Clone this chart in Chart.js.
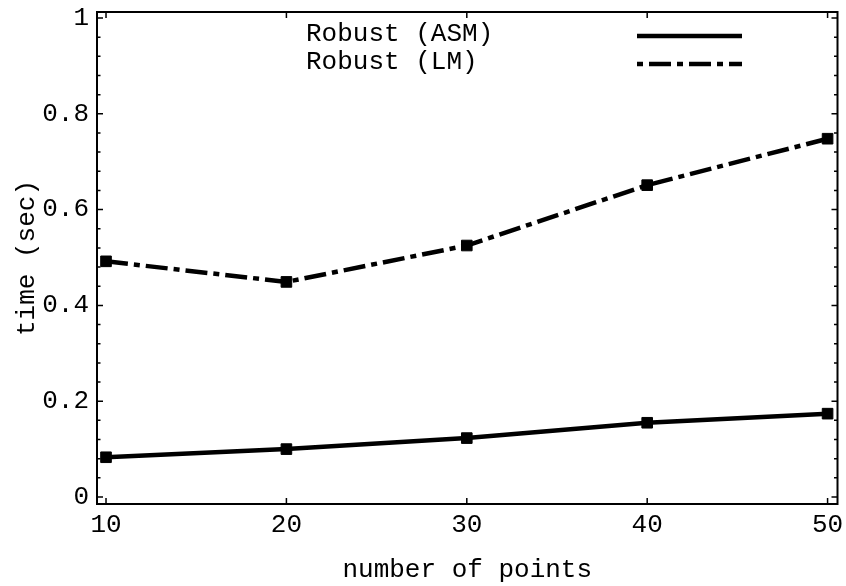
<!DOCTYPE html>
<html><head><meta charset="utf-8">
<script src="https://cdn.jsdelivr.net/npm/chart.js@4/dist/chart.umd.min.js"></script>
<style>html,body{margin:0;padding:0;background:#fff}#wrap{width:846px;height:586px}</style>
</head><body><div id="wrap"><canvas id="c" width="846" height="586"></canvas></div>
<script>
const nPoints = [10, 20, 30, 40, 50];
const asmTime = [0.083, 0.100, 0.123, 0.155, 0.174];
const lmTime  = [0.492, 0.449, 0.525, 0.651, 0.748];
const xTicks = [10, 20, 30, 40, 50];
const yTicks = [0, 0.2, 0.4, 0.6, 0.8, 1];
const yTickLabels = ['0', '0.2', '0.4', '0.6', '0.8', '1'];
const seriesNames = ['Robust (ASM)', 'Robust (LM)'];
const xTitle = 'number of points';
const yTitle = 'time (sec)';

const FONT = "'Liberation Mono', 'Courier New', monospace";
const LM_DASH = [22, 6, 6, 6];

const framePlugin = {
  id: 'frame',
  afterDatasetsDraw(chart) {
    const {ctx, chartArea: a, scales: {x, y}} = chart;
    ctx.save();
    ctx.strokeStyle = '#000';
    ctx.lineWidth = 2;
    ctx.strokeRect(a.left, a.top, a.right - a.left, a.bottom - a.top);
    ctx.lineWidth = 1.5;
    ctx.beginPath();
    for (let i = 0; i < yTicks.length; i++) {
      const v = yTicks[i];
      const py = y.getPixelForValue(v);
      ctx.moveTo(a.left, py); ctx.lineTo(a.left + 6, py);
      ctx.moveTo(a.right, py); ctx.lineTo(a.right - 6, py);
      if (i < yTicks.length - 1) {
        const step = (yTicks[i + 1] - v) / 5;
        for (let k = 1; k < 5; k++) {
          const pm = y.getPixelForValue(v + step * k);
          ctx.moveTo(a.left, pm); ctx.lineTo(a.left + 3.5, pm);
          ctx.moveTo(a.right, pm); ctx.lineTo(a.right - 3.5, pm);
        }
      }
    }
    for (const v of xTicks) {
      const px = x.getPixelForValue(v);
      ctx.moveTo(px, a.bottom); ctx.lineTo(px, a.bottom - 6);
      ctx.moveTo(px, a.top); ctx.lineTo(px, a.top + 6);
    }
    ctx.stroke();
    ctx.restore();
  },
  afterDraw(chart) {
    const {ctx} = chart;
    ctx.save();
    ctx.fillStyle = '#000';
    ctx.font = '26px ' + FONT;
    ctx.textBaseline = 'alphabetic';
    ctx.textAlign = 'left';
    const rows = [41, 69];
    const lineY = [36, 64];
    chart.data.datasets.forEach((ds, i) => {
      ctx.fillText(ds.label, 306, rows[i]);
      ctx.beginPath();
      ctx.strokeStyle = '#000';
      ctx.lineWidth = 4.5;
      ctx.setLineDash(ds.borderDash || []);
      ctx.lineDashOffset = ds.borderDash ? 28 : 0;
      ctx.moveTo(637, lineY[i]);
      ctx.lineTo(742, lineY[i]);
      ctx.stroke();
    });
    ctx.restore();
  }
};

Chart.defaults.color = '#000';
Chart.defaults.font.family = FONT;

new Chart(document.getElementById('c'), {
  type: 'line',
  data: {
    datasets: [
      {
        label: seriesNames[0],
        data: nPoints.map((n, i) => ({x: n, y: asmTime[i]})),
        borderColor: '#000', backgroundColor: '#000',
        borderWidth: 4.5, pointStyle: 'rect', pointRadius: 7.5, pointBorderWidth: 1,
        tension: 0, borderCapStyle: 'butt'
      },
      {
        label: seriesNames[1],
        data: nPoints.map((n, i) => ({x: n, y: lmTime[i]})),
        borderColor: '#000', backgroundColor: '#000',
        borderWidth: 4.5, borderDash: LM_DASH, pointStyle: 'rect', pointRadius: 7.5, pointBorderWidth: 1,
        tension: 0, borderCapStyle: 'butt'
      }
    ]
  },
  options: {
    responsive: false,
    devicePixelRatio: 1,
    animation: false,
    layout: {padding: {top: 12, right: 6, left: 0, bottom: 0}},
    plugins: {legend: {display: false}, tooltip: {enabled: false}},
    scales: {
      x: {
        type: 'linear', min: 9.5, max: 50.55,
        afterBuildTicks: s => { s.ticks = xTicks.map(v => ({value: v})); },
        afterFit: s => { s.height = 82; s.paddingLeft = 0; s.paddingRight = 0; },
        grid: {display: false, drawTicks: false},
        border: {display: false},
        ticks: {font: {size: 26}, padding: 6, maxRotation: 0, callback: v => String(v)},
        title: {display: true, text: xTitle, font: {size: 26}, padding: {top: 0, bottom: 0}}
      },
      y: {
        type: 'linear', min: -0.0146, max: 1.0125,
        afterBuildTicks: s => { s.ticks = yTicks.map(v => ({value: v})); },
        afterFit: s => { s.width = 97; s.paddingTop = 0; s.paddingBottom = 0; },
        grid: {display: false, drawTicks: false},
        border: {display: false},
        ticks: {font: {size: 26}, padding: 8, callback: (v) => { const i = yTicks.indexOf(v); return i >= 0 ? yTickLabels[i] : ''; }},
        title: {display: true, text: yTitle, font: {size: 26}, padding: {top: 12, bottom: 0}}
      }
    }
  },
  plugins: [framePlugin]
});
</script>
</body></html>
